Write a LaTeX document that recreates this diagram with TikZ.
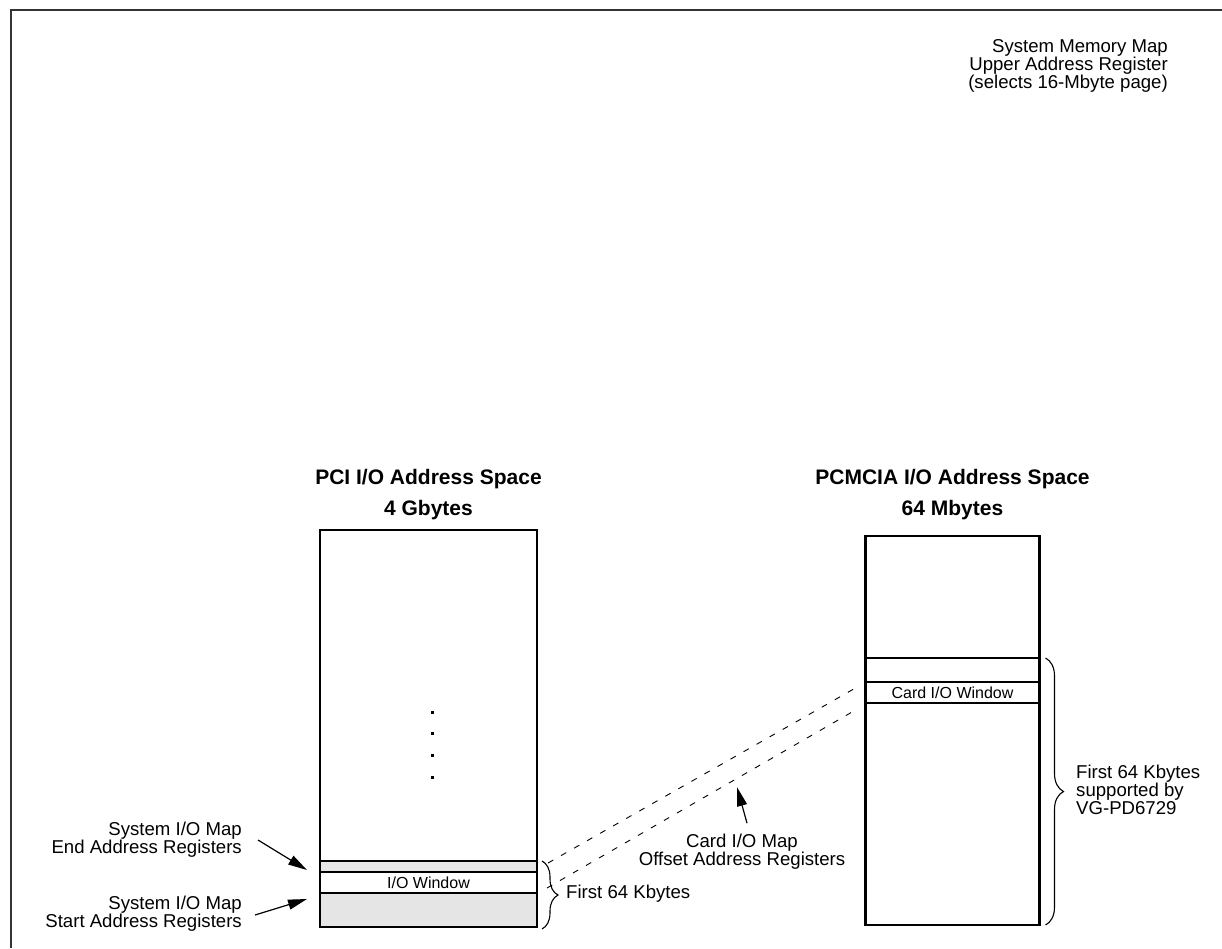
\documentclass[tikz,border=0pt]{standalone}
\usepackage{fontspec}
\setmainfont{Liberation Sans}
\usetikzlibrary{positioning,arrows.meta,calc,decorations.pathreplacing}

\begin{document}
\begin{tikzpicture}[
  x=1pt, y=-1pt,
  addrspace/.style={draw, line width=2.4pt, inner sep=0pt, outer sep=0pt},
  band/.style={addrspace, fill=gray!20},
  winbox/.style={addrspace, fill=white, font=\fontsize{16}{18}\selectfont},
  lbl/.style={inner sep=0pt, font=\fontsize{18.6}{18}\selectfont},
  heading/.style={inner sep=0pt, align=center, font=\fontsize{21}{31}\selectfont\bfseries},
  pointer/.style={-{Triangle[length=19pt,width=10pt]}, line width=1.2pt},
  mapline/.style={dash pattern=on 6pt off 9pt, line width=0.9pt},
  brc/.style={decorate, decoration={brace, amplitude=#1}, line width=1.1pt}
]
\useasboundingbox (0,0) rectangle (1222,948);
\draw[line width=1.5pt, black!80] (11,948) -- (11,10) -- (1222,10);

% PCI side
\node[addrspace, minimum width=217, minimum height=397] (pcispace) at (428.5,728.5) {};
\node[band, minimum width=217, minimum height=11, anchor=north west] (endreg) at (320,861) {};
\node[winbox, minimum width=217, minimum height=21, anchor=north] (iowin) at (endreg.south) {I/O Window};
\node[band, minimum width=217, minimum height=34, anchor=north] (startreg) at (iowin.south) {};
\node[heading, above=10pt of pcispace] (pcititle) {PCI I/O Address Space\\4 Gbytes};
\foreach \y in {712,733,755,777}
  \fill (430.5,\y-1.5) rectangle ++(3,3);

% PCMCIA side
\node[addrspace, minimum width=174, minimum height=389] (cardspace) at (952.5,730.5) {};
\node[winbox, minimum width=174, minimum height=21] (cardwin) at (952.5,692.5) {Card I/O Window};
\node[inner sep=0pt, outer sep=0pt, minimum width=174, minimum height=24, anchor=south] (cardhead) at (cardwin.north) {};
\draw[line width=1.5pt] (cardhead.north west) -- (cardhead.north east);
\node[heading, above=16pt of cardspace] (cardtitle) {PCMCIA I/O Address Space\\64 Mbytes};

% labels
\node[lbl, anchor=east, align=right] (memlbl) at (1168,66) {System Memory Map\\Upper Address Register\\(selects 16-Mbyte page)};
\node[lbl, anchor=east, align=right] (endlbl) at (242,840) {System I/O Map\\End Address Registers};
\node[lbl, anchor=east, align=right] (startlbl) at (242,914) {System I/O Map\\Start Address Registers};
\node[lbl, anchor=west] (first64) at (566,894) {First 64 Kbytes};
\node[lbl, align=center] (offlbl) at (742,852) {Card I/O Map\\Offset Address Registers};
\node[lbl, anchor=west, align=left] (suplbl) at (1076,790) {First 64 Kbytes\\supported by\\VG-PD6729};

% braces
\draw[brc=16pt] ($(endreg.north east)+(5,0)$) -- ($(startreg.south east)+(5,2)$);
\draw[brc=18pt] ($(cardhead.north east)+(6,0)$) -- ($(cardspace.south east)+(6,0)$);

% window mapping
\draw[mapline] ($(endreg.north east)+(11,2)$) -- ($(cardwin.north west)+(-10,6)$);
\draw[mapline] ($(iowin.east)+(10,5.5)$) -- ($(cardwin.south west)+(-10,7)$);

% pointers
\draw[pointer] ($(endlbl.east)+(16,0)$) -- ($(endreg.west)+(-13,3.5)$);
\draw[pointer] ($(startlbl.east)+(13,1)$) -- ($(startreg.west)+(-13,-11)$);
\draw[pointer] ($(offlbl.north)+(5,-11)$) -- ++(-10,-36);
\end{tikzpicture}
\end{document}
